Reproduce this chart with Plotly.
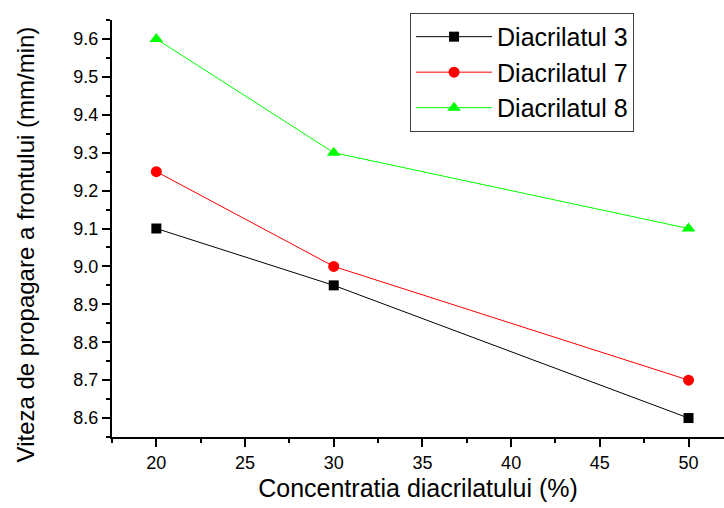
import plotly.graph_objects as go

concentratie = [20, 30, 50]
diacrilat3 = [9.10, 8.95, 8.60]
diacrilat7 = [9.25, 9.00, 8.70]
diacrilat8 = [9.60, 9.30, 9.10]

series = [
    ("Diacrilatul 3", diacrilat3, "black", "square", 10),
    ("Diacrilatul 7", diacrilat7, "red", "circle", 11),
    ("Diacrilatul 8", diacrilat8, "#00ff00", "triangle-up", 12),
]

fig = go.Figure()
for name, ys, color, sym, size in series:
    fig.add_trace(go.Scatter(
        x=concentratie, y=ys, name=name, mode="lines+markers",
        line=dict(color=color, width=1),
        marker=dict(symbol=sym, size=size, color=color),
    ))

font = "Arial, Liberation Sans, sans-serif"
fig.update_layout(
    width=724, height=508,
    margin=dict(l=112, r=0, t=20, b=71),
    paper_bgcolor="white", plot_bgcolor="white",
    font=dict(family=font, color="black"),
    showlegend=True,
    legend=dict(
        x=0.487, y=1.017, xanchor="left", yanchor="top",
        bordercolor="#404040", borderwidth=1, bgcolor="white",
        font=dict(size=25, family=font, color="black"),
        tracegroupgap=0, itemwidth=76,
    ),
    xaxis=dict(
        range=[17.5, 52.0], tickmode="array", tickvals=[20, 25, 30, 35, 40, 45, 50],
        showgrid=False, zeroline=False,
        showline=True, linecolor="black", linewidth=2,
        ticks="outside", ticklen=8, tickwidth=2, tickcolor="black",
        minor=dict(ticks="outside", ticklen=4, tickwidth=2, tickcolor="black", dtick=2.5, tick0=17.5),
        tickfont=dict(size=18),
        title=dict(text="Concentratia diacrilatului (%)", font=dict(size=25), standoff=8),
    ),
    yaxis=dict(
        range=[8.55, 9.65], tickmode="array",
        tickvals=[8.6, 8.7, 8.8, 8.9, 9.0, 9.1, 9.2, 9.3, 9.4, 9.5, 9.6],
        ticktext=["8.6", "8.7", "8.8", "8.9", "9.0", "9.1", "9.2", "9.3", "9.4", "9.5", "9.6"],
        showgrid=False, zeroline=False,
        showline=True, linecolor="black", linewidth=2,
        ticks="outside", ticklen=8, tickwidth=2, tickcolor="black",
        minor=dict(ticks="outside", ticklen=4, tickwidth=2, tickcolor="black", dtick=0.05, tick0=8.55),
        tickfont=dict(size=18),
    ),
    annotations=[dict(
        text="Viteza de propagare a frontului (mm/min)", textangle=-90,
        xref="paper", yref="paper", x=-0.142, y=0.462,
        xanchor="center", yanchor="middle", showarrow=False,
        font=dict(size=24, family=font, color="black"),
    )],
)

fig.write_html("out.html")
